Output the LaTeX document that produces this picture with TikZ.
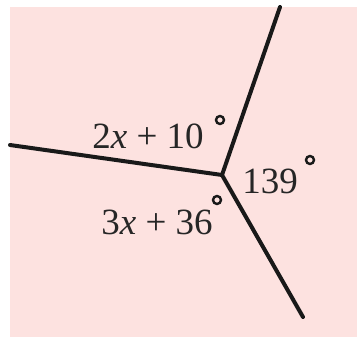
\documentclass[tikz,border=0pt]{standalone}
\usepackage{fontspec}
\setmainfont{Liberation Serif}
\usetikzlibrary{positioning}
\definecolor{bgpink}{RGB}{253,226,224}

\begin{document}
\begin{tikzpicture}[
    x=1pt, y=-1pt,
    ray/.style={line width=4pt, line cap=round, black!90},
    lbl/.style={font=\fontsize{37}{42}\selectfont, inner sep=0pt, text=black!85},
    deg/.style={circle, draw=black!90, line width=2.4pt, minimum size=8pt, inner sep=0pt}
  ]
    \useasboundingbox[fill=white] (0,0) rectangle (357,337);
    \fill[bgpink] (10,7) rectangle (357,337);
    % vertex and ray ends
    \coordinate (o) at (222,175);
    \coordinate (w) at (10,145);
    \coordinate (n) at (280,7);
    \coordinate (se) at (303,317);
    \draw[ray] (o) -- (w);
    \draw[ray] (o) -- (n);
    \draw[ray] (o) -- (se);
    % angle labels
    \node[lbl] (a1) at (148,136) {2\textit{x} + 10};
    \node[deg] (d1) at (220,120) {};
    \node[lbl] (a2) at (270,181) {139};
    \node[deg] (d2) at (310,160) {};
    \node[lbl] (a3) at (157,222) {3\textit{x} + 36};
    \node[deg] (d3) at (217,200) {};
  \end{tikzpicture}
\end{document}
